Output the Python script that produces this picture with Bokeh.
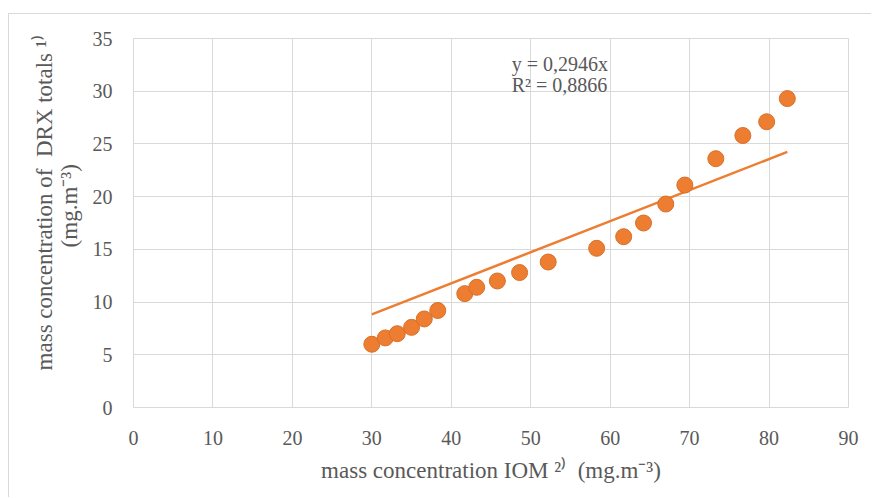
from bokeh.plotting import figure
from bokeh.models import Label, FixedTicker
from bokeh.embed import file_html
from bokeh.resources import INLINE

# data
iom = [30.0, 31.7, 33.2, 35.0, 36.6, 38.3, 41.7, 43.2, 45.8, 48.6,
       52.2, 58.3, 61.7, 64.2, 67.0, 69.4, 73.3, 76.7, 79.7, 82.3]
drx = [6.0, 6.6, 7.0, 7.6, 8.4, 9.2, 10.8, 11.4, 12.0, 12.8,
       13.8, 15.1, 16.2, 17.5, 19.3, 21.1, 23.6, 25.8, 27.1, 29.3]
slope = 0.2946
r2 = 0.8866
x_ticks = [0, 10, 20, 30, 40, 50, 60, 70, 80, 90]
y_ticks = [0, 5, 10, 15, 20, 25, 30, 35]

FONT = "Liberation Serif"
GREY = "#595959"
GRID = "#d9d9d9"
ORANGE = "#ED7D31"

p = figure(width=863, height=484, output_backend="svg", toolbar_location=None,
           x_range=(0, 90), y_range=(0, 35),
           min_border_left=124, min_border_right=24, min_border_top=24,
           min_border_bottom=91)
p.styles = {"border-left": "1px solid #d9d9d9", "border-top": "1px solid #d9d9d9",
            "margin-top": "13px", "margin-left": "8px"}

p.outline_line_color = GRID
p.outline_line_width = 1
p.background_fill_color = "white"
p.border_fill_color = "white"

for ax in (p.xaxis[0], p.yaxis[0]):
    ax.axis_line_color = None
    ax.major_tick_line_color = None
    ax.minor_tick_line_color = None
    ax.major_label_text_font = FONT
    ax.major_label_text_font_size = "20px"
    ax.major_label_text_color = GREY
    ax.axis_label_text_font = FONT
    ax.axis_label_text_font_size = "23px"
    ax.axis_label_text_font_style = "normal"
    ax.axis_label_text_color = GREY
    ax.axis_label_text_line_height = 1.0

p.xaxis.ticker = FixedTicker(ticks=x_ticks)
p.yaxis.ticker = FixedTicker(ticks=y_ticks)
p.xaxis.major_label_standoff = 17
p.yaxis.major_label_standoff = 15
p.xaxis.axis_label = "mass concentration IOM \u00b2\u207e\u00a0 (mg.m\u207b\u00b3)"
pad1 = "\u00a0" * 7
pad2 = "\u00a0" * 6
p.yaxis.axis_label = (pad1 + "mass concentration of\u00a0 DRX totals \u00b9\u207e\n"
                      + pad2 + "(mg.m\u207b\u00b3)")
p.xaxis.axis_label_standoff = 10
p.yaxis.axis_label_standoff = 8

p.xgrid.grid_line_color = GRID
p.ygrid.grid_line_color = GRID
p.xgrid.grid_line_width = 1
p.ygrid.grid_line_width = 1

# linear trendline through origin
x0, x1 = min(iom), max(iom)
p.line([x0, x1], [slope * x0, slope * x1], line_color=ORANGE, line_width=2.5)

p.scatter(iom, drx, size=16, fill_color=ORANGE, line_color="#d8702a", line_width=1)

eq = ("y = " + f"{slope:.4f}x").replace(".", ",")
rr = ("R\u00b2 = " + f"{r2:.4f}").replace(".", ",")
p.add_layout(Label(x=47.6, y=32.6, text=eq, text_font=FONT, text_font_size="20px",
                   text_color=GREY, text_baseline="middle"))
p.add_layout(Label(x=47.6, y=30.6, text=rr, text_font=FONT, text_font_size="20px",
                   text_color=GREY, text_baseline="middle"))

open("out.html", "w").write(file_html(p, INLINE))
